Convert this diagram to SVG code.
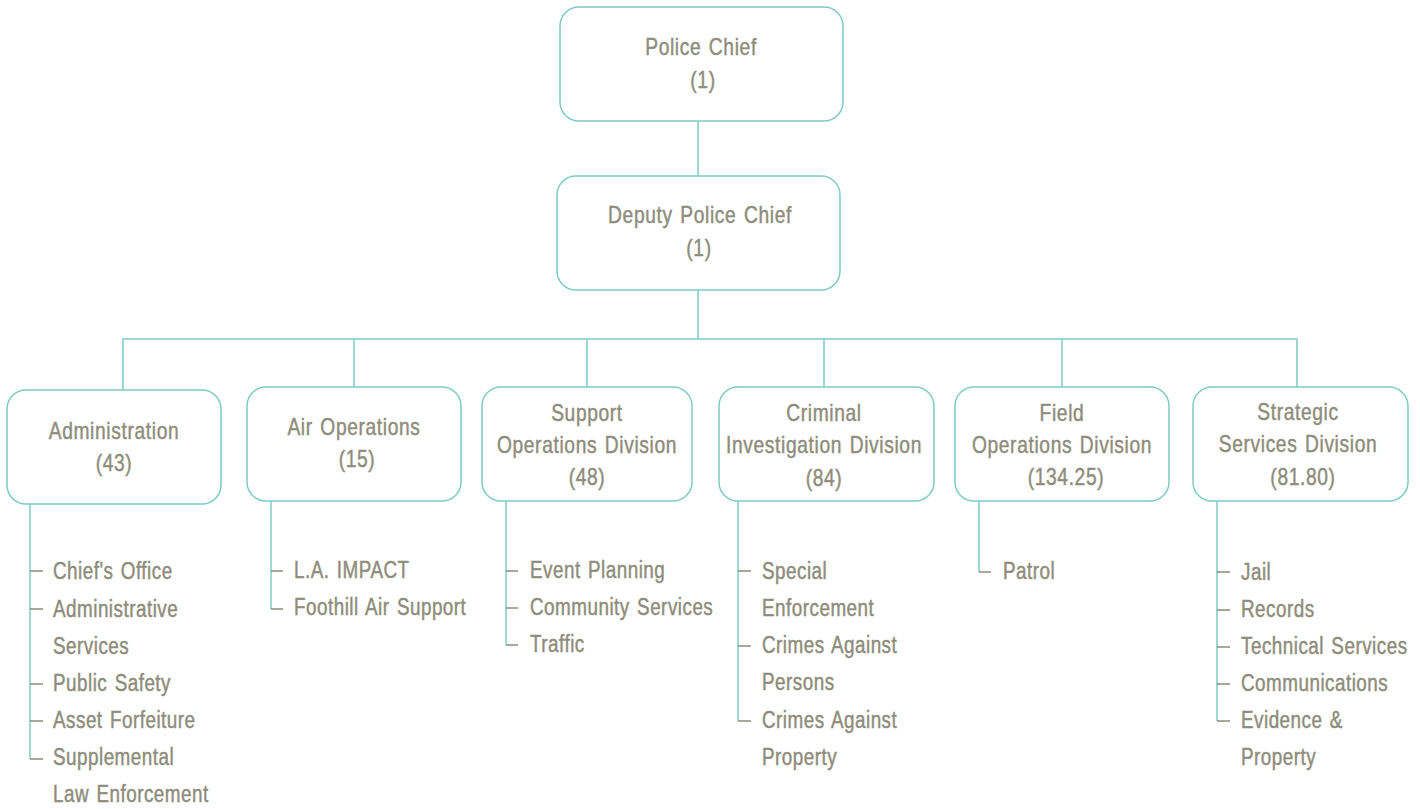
<svg xmlns="http://www.w3.org/2000/svg" width="1420" height="809" viewBox="0 0 1420 809">
<style>
.box{fill:#fff;stroke:#7ecac5;stroke-width:1.5}
.ln{fill:none;stroke:#7ecac5;stroke-width:1.5}
.tk{fill:none;stroke:#8e8c7a;stroke-width:1.5}
text{font-family:"Liberation Sans",Arial,sans-serif;fill:#8e8c7a;stroke:#8e8c7a;stroke-width:0.45px;font-size:23px;letter-spacing:0.6px;word-spacing:2px;transform-box:fill-box;transform-origin:0% 50%;transform:scaleX(0.82)}
text.t{text-anchor:middle;font-size:24px;letter-spacing:0.8px;transform-origin:50% 50%;transform:scaleX(0.8)}
</style>
<rect width="1420" height="809" fill="#fff"/>
<g id="connectors">
<line class="ln" x1="698" y1="121" x2="698" y2="176"/>
<line class="ln" x1="698" y1="290" x2="698" y2="339"/>
<polyline class="ln" points="123,389 123,339 1297,339 1297,387"/>
<line class="ln" x1="354" y1="339" x2="354" y2="387"/>
<line class="ln" x1="587" y1="339" x2="587" y2="387"/>
<line class="ln" x1="824" y1="339" x2="824" y2="387"/>
<line class="ln" x1="1062" y1="339" x2="1062" y2="387"/>
<path class="ln" d="M30,504 V759"/>
<path class="tk" d="M30,759 H43 M30,571 H43 M30,609 H43 M30,684 H43 M30,721 H43"/>
<path class="ln" d="M271,501 V609"/>
<path class="tk" d="M271,609 H283 M271,571 H283"/>
<path class="ln" d="M506,501 V645"/>
<path class="tk" d="M506,645 H518 M506,571 H518 M506,608 H518"/>
<path class="ln" d="M738,501 V721"/>
<path class="tk" d="M738,721 H751 M738,571 H751 M738,646 H751"/>
<path class="ln" d="M979,501 V572"/>
<path class="tk" d="M979,572 H991"/>
<path class="ln" d="M1217,501 V721"/>
<path class="tk" d="M1217,721 H1230 M1217,572 H1230 M1217,610 H1230 M1217,647 H1230 M1217,684 H1230"/>
</g>
<g id="police-chief">
<rect class="box" x="560" y="7" width="283" height="114" rx="19"/>
<text class="t" x="701" y="55">Police Chief</text>
<text class="t" x="703" y="88">(1)</text>
</g>
<g id="deputy">
<rect class="box" x="557" y="176" width="283" height="114" rx="19"/>
<text class="t" x="700" y="223">Deputy Police Chief</text>
<text class="t" x="699" y="256">(1)</text>
</g>
<g id="administration">
<rect class="box" x="7" y="390" width="214" height="114" rx="19"/>
<text class="t" x="114" y="439">Administration</text>
<text class="t" x="114" y="471">(43)</text>
<text x="53" y="579">Chief's Office</text>
<text x="53" y="617">Administrative</text>
<text x="53" y="654">Services</text>
<text x="53" y="691">Public Safety</text>
<text x="53" y="728">Asset Forfeiture</text>
<text x="53" y="765">Supplemental</text>
<text x="53" y="802">Law Enforcement</text>
</g>
<g id="air-operations">
<rect class="box" x="247" y="387" width="214" height="114" rx="19"/>
<text class="t" x="354" y="435">Air Operations</text>
<text class="t" x="357" y="467">(15)</text>
<text x="294" y="578">L.A. IMPACT</text>
<text x="294" y="615">Foothill Air Support</text>
</g>
<g id="support-operations">
<rect class="box" x="482" y="387" width="210" height="114" rx="19"/>
<text class="t" x="587" y="421">Support</text>
<text class="t" x="587" y="453">Operations Division</text>
<text class="t" x="587" y="485">(48)</text>
<text x="530" y="578">Event Planning</text>
<text x="530" y="615">Community Services</text>
<text x="530" y="652">Traffic</text>
</g>
<g id="criminal-investigation">
<rect class="box" x="719" y="387" width="215" height="114" rx="19"/>
<text class="t" x="824" y="421">Criminal</text>
<text class="t" x="824" y="453">Investigation Division</text>
<text class="t" x="824" y="486">(84)</text>
<text x="762" y="579">Special</text>
<text x="762" y="616">Enforcement</text>
<text x="762" y="653">Crimes Against</text>
<text x="762" y="690">Persons</text>
<text x="762" y="728">Crimes Against</text>
<text x="762" y="765">Property</text>
</g>
<g id="field-operations">
<rect class="box" x="955" y="387" width="214" height="114" rx="19"/>
<text class="t" x="1062" y="421">Field</text>
<text class="t" x="1062" y="453">Operations Division</text>
<text class="t" x="1066" y="485">(134.25)</text>
<text x="1003" y="579">Patrol</text>
</g>
<g id="strategic-services">
<rect class="box" x="1193" y="387" width="215" height="114" rx="19"/>
<text class="t" x="1298" y="420">Strategic</text>
<text class="t" x="1298" y="452">Services Division</text>
<text class="t" x="1303" y="485">(81.80)</text>
<text x="1241" y="580">Jail</text>
<text x="1241" y="617">Records</text>
<text x="1241" y="654">Technical Services</text>
<text x="1241" y="691">Communications</text>
<text x="1241" y="728">Evidence &amp;</text>
<text x="1241" y="765">Property</text>
</g>
</svg>
